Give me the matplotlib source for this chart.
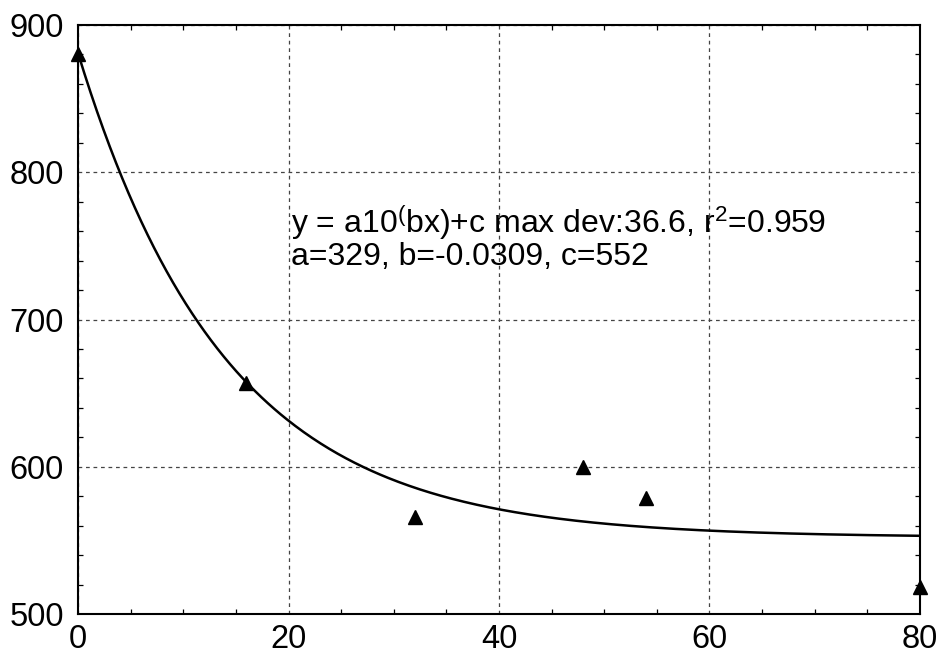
import numpy as np
import matplotlib
matplotlib.use("Agg")
import matplotlib.pyplot as plt
from matplotlib.ticker import MultipleLocator

plt.rcParams['font.family'] = ['Liberation Sans', 'DejaVu Sans']
plt.rcParams['mathtext.fontset'] = 'custom'
plt.rcParams['mathtext.rm'] = 'Liberation Sans'
plt.rcParams['mathtext.default'] = 'regular'

# measured points
x_data = [0, 16, 32, 48, 54, 80]
y_data = [880, 657, 566, 600, 579, 518]

# fit parameters: y = a*10^(b*x) + c
a_fit = 329
b_fit = -0.0309
c_fit = 552

fig = plt.figure(figsize=(9.39, 6.53), dpi=100)
ax = fig.add_axes([78 / 939, 1 - 614 / 653, (920 - 78) / 939, (614 - 25) / 653])

xs = np.linspace(0, 80, 400)
ax.plot(xs, a_fit * 10 ** (b_fit * xs) + c_fit, color='black', lw=1.8, zorder=3)
ax.plot(x_data, y_data, linestyle='none', marker='^', color='black',
        markersize=10.5, clip_on=False, zorder=4)

ax.set_xlim(0, 80)
ax.set_ylim(500, 900)
ax.xaxis.set_major_locator(MultipleLocator(20))
ax.xaxis.set_minor_locator(MultipleLocator(5))
ax.yaxis.set_major_locator(MultipleLocator(100))
ax.yaxis.set_minor_locator(MultipleLocator(20))
ax.tick_params(which='both', direction='in', top=True, right=True,
               labelsize=23.5)
ax.tick_params(axis='y', pad=10)
ax.tick_params(axis='x', pad=7)
ax.tick_params(which='major', length=0)
ax.tick_params(which='minor', length=3.5, width=0.9)
ax.grid(True, which='major', linestyle=(0, (3, 3)), color='#444444', lw=0.9)
for s in ax.spines.values():
    s.set_linewidth(1.5)

ax.text(20.2, 759, "y = a10$^($bx)+c max dev:36.6, r$^2$=0.959",
        fontsize=23, ha='left', va='baseline')
ax.text(20.2, 737, "a=329, b=-0.0309, c=552",
        fontsize=23, ha='left', va='baseline')

fig.savefig('out.png', dpi=100)
